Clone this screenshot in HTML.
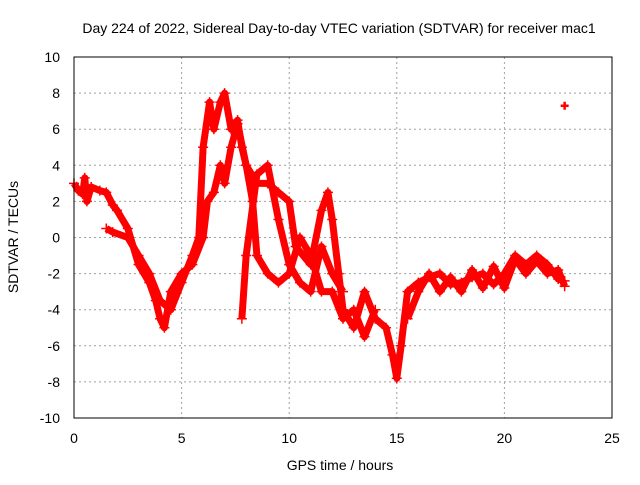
<!DOCTYPE html>
<html><head><meta charset="utf-8"><style>
body{margin:0;background:#fff;}
svg{font-family:"Liberation Sans",sans-serif;}
</style></head><body>
<svg id="chart" width="640" height="480" xmlns="http://www.w3.org/2000/svg">
<rect width="640" height="480" fill="#fff"/>
<text x="339" y="33" font-size="14" text-anchor="middle">Day 224 of 2022, Sidereal Day-to-day VTEC variation (SDTVAR) for receiver mac1</text>
<text x="340" y="470" font-size="14" text-anchor="middle">GPS time / hours</text>
<text transform="translate(18,237) rotate(-90)" font-size="14" text-anchor="middle">SDTVAR / TECUs</text>
<g id="grid"></g><g id="ticks"></g><g id="marks"></g>
<rect x="74" y="57" width="538" height="361" fill="none" stroke="#000" stroke-width="1"/>
</svg>
<script>
const xTicks=[0,5,10,15,20,25];
const yTicks=[-10,-8,-6,-4,-2,0,2,4,6,8,10];
const trace1T=[0,0.2,0.4,0.5,0.6,0.8,1.2,1.5,1.8,2,2.5,3,3.5,3.8,4,4.2,4.5,5,5.5,6,6.2,6.5,6.8,7,7.3,7.6,8,8.5,9,9.5,10,10.3,11,11.5,11.8,12,12.3,12.5,13,13.5,14,14.5,14.8,15,15.2,15.5,16,16.5,17,17.5,18,18.5,19,19.5,20,20.5,21,21.5,22,22.5,22.8];
const trace1V=[3,2.6,2.4,3.3,2.0,2.8,2.6,2.5,1.8,1.5,0.5,-1.5,-2.5,-3.5,-4.5,-5,-3,-2,-1.5,0,2,2.5,4,3,5,6.3,4,3,3,2.5,2,-0.5,-1.5,1.5,2.5,1,-2,-4,-5,-3,-4.5,-5,-6.5,-7.8,-6,-3,-2.5,-2.2,-2,-2.6,-2.5,-2.2,-2,-2.6,-2,-1,-1.5,-1,-1.5,-2.3,-2.4];
const trace2T=[1.5,1.8,2.5,3,3.5,4,4.5,5,5.5,5.8,6,6.3,6.5,6.8,7,7.3,7.6,7.8,8,8.3,8.5,9,9.5,10,10.5,11,11.5,12,12.5,13,13.5,14];
const trace2V=[0.5,0.3,0,-1,-2,-3.5,-4,-2.5,-1,0,5,7.5,6,7.5,8,6,6.5,5,4,2,-1,-2,-2.5,-2,0,-1,-3,-3,-4.5,-4,-5.5,-4];
const trace3T=[7.8,8,8.5,9,9.5,10,10.5,11,11.5,12,12.5];
const trace3V=[-4.5,-1,3.5,4,1,-1.5,-2.5,-3,-0.5,-2,-3];
const trace4T=[15.5,16,16.5,17,17.5,18,18.5,19,19.5,20,20.5,21,21.5,22,22.5,22.8];
const trace4V=[-4.5,-3,-2,-3,-2.2,-3,-1.8,-2.8,-1.6,-2.8,-1.2,-2,-1.3,-2,-1.8,-2.7];
const outlierT=[22.8];
const outlierV=[7.3];
const X=t=>74+t*(538/25);
const Y=v=>237.5-v*(361/20);
const ns="http://www.w3.org/2000/svg";
function mk(tag,attrs,parent){const e=document.createElementNS(ns,tag);for(const k in attrs)e.setAttribute(k,attrs[k]);parent.appendChild(e);return e;}
const grid=document.getElementById('grid'),ticks=document.getElementById('ticks'),marks=document.getElementById('marks');
xTicks.forEach(t=>{
 if(t>0&&t<25){const g=mk('line',{x1:X(t),x2:X(t),y1:57,y2:418,stroke:'#a0a0a0','stroke-dasharray':'2,3'},grid);
 
 }
 const l=mk('text',{x:X(t),y:443,'font-size':14,'text-anchor':'middle'},ticks);l.textContent=t;
 
 
});
yTicks.forEach(v=>{
 if(v>-10&&v<10){const g=mk('line',{x1:74,x2:612,y1:Y(v),y2:Y(v),stroke:'#a0a0a0','stroke-dasharray':'2,3'},grid);
 
 }
 const l=mk('text',{x:60,y:Y(v)+5,'font-size':14,'text-anchor':'end'},ticks);l.textContent=v;
 
 
});
function drawTrace(T,V,name){
 const pts=T.map((t,i)=>X(t)+','+Y(V[i])).join(' ');
 const p=mk('polyline',{points:pts,fill:'none',stroke:'#ff0000','stroke-width':7,'stroke-linejoin':'round'},marks);
 
 
 T.forEach((t,i)=>{const x=X(t),y=Y(V[i]);
  const m=mk('path',{d:`M${x-5},${y}h10M${x},${y-5}v10`,stroke:'#ff0000','stroke-width':1.5},marks);
  
  });
}
drawTrace(trace1T,trace1V,'sdtvar-trace-main');
drawTrace(trace2T,trace2V,'sdtvar-trace-upper');
drawTrace(trace3T,trace3V,'sdtvar-trace-third');
drawTrace(trace4T,trace4V,'sdtvar-trace-late');
outlierT.forEach((t,i)=>{const x=X(t),y=Y(outlierV[i]);
 const m=mk('path',{d:`M${x-4},${y}h8M${x},${y-4}v8`,stroke:'#ff0000','stroke-width':2.5},marks);
 
 });
</script>
</body></html>
